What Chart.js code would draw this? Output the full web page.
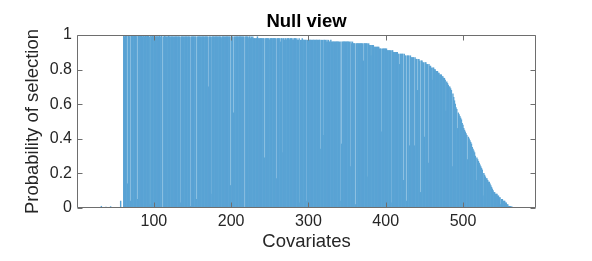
<!DOCTYPE html>
<html>
<head>
<meta charset="utf-8">
<script src="https://cdn.jsdelivr.net/npm/chart.js@4/dist/chart.umd.min.js"></script>
<style>
  html, body { margin: 0; padding: 0; background: #fff; }
  canvas { display: block; }
</style>
</head>
<body>
<canvas id="nullChart" width="592" height="261"></canvas>
<script>
// Probability of selection per covariate (index 1..594)
const selectionProb = [
    0, 0, 0, 0, 0, 0, 0, 0, 0, 0,                                   // 1-10
    0, 0, 0, 0, 0, 0, 0, 0, 0, 0,                                   // 11-20
    0, 0, 0, 0, 0, 0, 0, 0, 0, 0.003,                               // 21-30
    0, 0.01, 0, 0, 0, 0, 0, 0.005, 0, 0,                            // 31-40
    0, 0, 0, 0.008, 0, 0, 0, 0, 0, 0,                               // 41-50
    0, 0, 0, 0, 0, 0, 0.04, 0, 0, 0,                                // 51-60
    1.00, 0.99, 1.00, 1.00, 1.00, 0.14, 1.00, 0.99, 1.00, 0.04,     // 61-70
    1.00, 1.00, 0.99, 1.00, 1.00, 1.00, 0.99, 1.00, 0.05, 1.00,     // 71-80
    1.00, 0.99, 1.00, 1.00, 0.99, 1.00, 1.00, 0.99, 1.00, 1.00,     // 81-90
    0.99, 1.00, 1.00, 0.99, 0.02, 1.00, 0.99, 1.00, 1.00, 0.99,     // 91-100
    1.00, 0.99, 0.99, 1.00, 0.99, 0.99, 1.00, 0.99, 0.99, 1.00,     // 101-110
    0.00, 0.99, 0.99, 1.00, 0.99, 0.99, 0.99, 0.99, 1.00, 0.99,     // 111-120
    0.99, 0.99, 0.99, 0.99, 0.99, 0.99, 0.99, 0.99, 0.99, 0.99,     // 121-130
    0.99, 0.99, 0.99, 0.03, 0.99, 0.99, 0.99, 0.99, 0.99, 0.99,     // 131-140
    0.99, 0.99, 0.99, 0.99, 0.99, 0.99, 0.01, 0.99, 0.99, 0.99,     // 141-150
    0.99, 0.99, 0.99, 0.99, 0.05, 0.99, 0.99, 0.99, 0.99, 0.99,     // 151-160
    0.99, 0.99, 0.99, 0.99, 0.99, 0.99, 0.99, 0.99, 0.99, 0.99,     // 161-170
    0.70, 0.99, 0.99, 0.08, 0.99, 0.99, 0.99, 0.99, 0.99, 0.99,     // 171-180
    0.99, 0.99, 0.99, 0.99, 0.99, 0.99, 0.98, 0.99, 0.99, 0.99,     // 181-190
    0.99, 0.99, 0.99, 0.99, 0.99, 0.99, 0.99, 0.99, 0.13, 0.99,     // 191-200
    0.99, 0.99, 0.55, 0.99, 0.99, 0.99, 0.99, 0.99, 0.99, 0.99,     // 201-210
    0.99, 0.99, 0.99, 0.99, 0.99, 0.99, 0.00, 0.99, 0.99, 0.99,     // 211-220
    0.99, 0.98, 0.99, 0.99, 0.98, 0.99, 0.98, 0.99, 0.98, 0.98,     // 221-230
    0.98, 0.98, 0.98, 0.99, 0.98, 0.98, 0.98, 0.98, 0.98, 0.98,     // 231-240
    0.98, 0.98, 0.29, 0.98, 0.98, 0.98, 0.98, 0.98, 0.98, 0.97,     // 241-250
    0.98, 0.98, 0.98, 0.98, 0.98, 0.98, 0.98, 0.98, 0.17, 0.98,     // 251-260
    0.98, 0.98, 0.98, 0.96, 0.98, 0.98, 0.32, 0.98, 0.97, 0.98,     // 261-270
    0.98, 0.97, 0.98, 0.98, 0.98, 0.97, 0.98, 0.98, 0.97, 0.98,     // 271-280
    0.97, 0.98, 0.98, 0.97, 0.98, 0.97, 0.97, 0.98, 0.03, 0.97,     // 281-290
    0.97, 0.98, 0.97, 0.97, 0.97, 0.97, 0.97, 0.04, 0.97, 0.97,     // 291-300
    0.97, 0.97, 0.97, 0.97, 0.97, 0.97, 0.97, 0.97, 0.97, 0.97,     // 301-310
    0.97, 0.97, 0.97, 0.97, 0.97, 0.34, 0.97, 0.97, 0.42, 0.97,     // 311-320
    0.97, 0.97, 0.96, 0.97, 0.96, 0.97, 0.96, 0.96, 0.97, 0.96,     // 321-330
    0.96, 0.96, 0.96, 0.96, 0.96, 0.96, 0.96, 0.96, 0.96, 0.96,     // 331-340
    0.04, 0.96, 0.37, 0.96, 0.96, 0.96, 0.96, 0.96, 0.96, 0.96,     // 341-350
    0.96, 0.96, 0.96, 0.24, 0.96, 0.95, 0.96, 0.95, 0.95, 0.95,     // 351-360
    0.02, 0.95, 0.95, 0.95, 0.95, 0.95, 0.95, 0.95, 0.95, 0.95,     // 361-370
    0.85, 0.95, 0.95, 0.95, 0.95, 0.95, 0.18, 0.95, 0.94, 0.94,     // 371-380
    0.88, 0.94, 0.94, 0.94, 0.93, 0.93, 0.93, 0.93, 0.93, 0.93,     // 381-390
    0.93, 0.92, 0.92, 0.92, 0.44, 0.92, 0.92, 0.92, 0.92, 0.92,     // 391-400
    0.92, 0.91, 0.91, 0.91, 0.91, 0.91, 0.03, 0.91, 0.91, 0.90,     // 401-410
    0.90, 0.90, 0.90, 0.90, 0.90, 0.89, 0.89, 0.83, 0.89, 0.89,     // 411-420
    0.89, 0.89, 0.16, 0.89, 0.88, 0.88, 0.04, 0.88, 0.88, 0.88,     // 421-430
    0.36, 0.88, 0.87, 0.87, 0.87, 0.87, 0.36, 0.87, 0.86, 0.86,     // 431-440
    0.68, 0.86, 0.86, 0.85, 0.09, 0.85, 0.85, 0.84, 0.84, 0.41,     // 441-450
    0.84, 0.84, 0.83, 0.83, 0.26, 0.83, 0.82, 0.82, 0.81, 0.74,     // 451-460
    0.81, 0.81, 0.80, 0.80, 0.79, 0.79, 0.79, 0.78, 0.78, 0.77,     // 461-470
    0.77, 0.77, 0.76, 0.76, 0.75, 0.75, 0.74, 0.56, 0.73, 0.72,     // 471-480
    0.71, 0.70, 0.70, 0.69, 0.68, 0.24, 0.66, 0.64, 0.62, 0.60,     // 481-490
    0.58, 0.57, 0.46, 0.55, 0.54, 0.53, 0.52, 0.51, 0.49, 0.48,     // 491-500
    0.46, 0.45, 0.44, 0.43, 0.42, 0.28, 0.41, 0.40, 0.39, 0.38,     // 501-510
    0.37, 0.35, 0.34, 0.33, 0.32, 0.30, 0.16, 0.29, 0.28, 0.27,     // 511-520
    0.26, 0.25, 0.24, 0.23, 0.22, 0.07, 0.20, 0.19, 0.18, 0.17,     // 521-530
    0.17, 0.16, 0.15, 0.15, 0.14, 0.13, 0.12, 0.11, 0.10, 0.09,     // 531-540
    0.09, 0.08, 0.08, 0.08, 0.07, 0.07, 0.06, 0.06, 0.02, 0.05,     // 541-550
    0.05, 0.04, 0.04, 0.04, 0.03, 0.03, 0.02, 0.02, 0.01, 0.01,     // 551-560
    0.01, 0.008, 0.006, 0.005, 0.004, 0.003, 0.002, 0.002, 0.001, 0.001, // 561-570
    0, 0, 0, 0, 0, 0, 0, 0, 0, 0,                                   // 571-580
    0, 0, 0, 0, 0, 0, 0, 0, 0, 0,                                   // 581-590
    0, 0, 0, 0                                                      // 591-594
];

// covariate numbers used as the category labels
const covariates = selectionProb.map((_, i) => i + 1);

const xTicks = [100, 200, 300, 400, 500];
const yTicks = [0, 0.2, 0.4, 0.6, 0.8, 1];

const titleText = 'Null view';
const xLabel = 'Covariates';
const yLabel = 'Probability of selection';

Chart.defaults.font.family = '"Liberation Sans", Arial, Helvetica, sans-serif';

// MATLAB-style box with inward ticks on all four sides, plus the title
const matlabFrame = {
    id: 'matlabFrame',
    afterDraw(chart) {
        const { ctx, chartArea: a, scales: { x, y } } = chart;
        const L = Math.round(a.left) + 0.5, R = Math.round(a.right) - 0.5;
        const T = Math.round(a.top) + 0.5, B = Math.round(a.bottom) - 0.5;
        ctx.save();
        ctx.strokeStyle = '#6e6e6e';
        ctx.lineWidth = 1;
        ctx.beginPath();
        ctx.rect(L, T, R - L, B - T);
        xTicks.forEach(v => {
            const px = Math.round(x.getPixelForValue(covariates.indexOf(v))) + 0.5;
            ctx.moveTo(px, B); ctx.lineTo(px, B - 5);
            ctx.moveTo(px, T); ctx.lineTo(px, T + 5);
        });
        yTicks.forEach(v => {
            const py = Math.round(y.getPixelForValue(v)) + 0.5;
            ctx.moveTo(L, py); ctx.lineTo(L + 5, py);
            ctx.moveTo(R, py); ctx.lineTo(R - 5, py);
        });
        ctx.stroke();

        ctx.fillStyle = '#000';
        ctx.font = 'bold 18.5px "Liberation Sans", Arial, sans-serif';
        ctx.textAlign = 'center';
        ctx.textBaseline = 'alphabetic';
        ctx.fillText(titleText, (a.left + a.right) / 2, 26.5);
        ctx.restore();
    }
};

const ctx = document.getElementById('nullChart').getContext('2d');
new Chart(ctx, {
    type: 'bar',
    data: {
        labels: covariates,
        datasets: [{
            data: selectionProb,
            backgroundColor: 'rgb(89,163,212)',
            borderWidth: 0,
            barPercentage: 1,
            categoryPercentage: 1
        }]
    },
    options: {
        responsive: false,
        animation: false,
        layout: { padding: { left: 0, right: 56, top: 35, bottom: 0 } },
        plugins: {
            legend: { display: false },
            tooltip: { enabled: false },
            title: { display: false }
        },
        scales: {
            x: {
                type: 'category',
                offset: true,
                afterFit: s => { s.height = 53; },
                afterBuildTicks: s => { s.ticks = xTicks.map(v => ({ value: covariates.indexOf(v) })); },
                grid: { display: false, drawTicks: false },
                border: { display: false },
                ticks: {
                    font: { size: 16 },
                    color: '#262626',
                    padding: 4,
                    maxRotation: 0,
                    autoSkip: false
                },
                title: {
                    display: true,
                    text: xLabel,
                    font: { size: 18.5 },
                    color: '#262626',
                    padding: { top: 0, bottom: 8 }
                }
            },
            y: {
                min: 0,
                max: 1,
                afterFit: s => { s.width = 77; },
                afterBuildTicks: s => { s.ticks = yTicks.map(v => ({ value: v })); },
                grid: { display: false, drawTicks: false },
                border: { display: false },
                ticks: {
                    font: { size: 16 },
                    color: '#262626',
                    padding: 5,
                    callback: v => String(v)
                },
                title: {
                    display: true,
                    text: yLabel,
                    font: { size: 18.5 },
                    color: '#262626',
                    padding: { top: 22, bottom: 0 }
                }
            }
        }
    },
    plugins: [matlabFrame]
});
</script>
</body>
</html>
